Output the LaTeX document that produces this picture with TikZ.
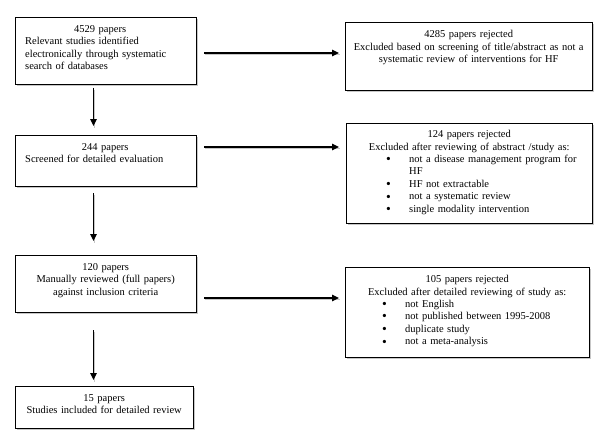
\documentclass[tikz,border=0pt]{standalone}
\usepackage{fontspec}
\setmainfont{Liberation Serif}
\usetikzlibrary{arrows.meta,shadows}
\newcommand{\bul}{\smash{\raisebox{-1.2pt}{\scalebox{1.3}{\textbullet}}}}
\begin{document}
\begin{tikzpicture}[x=1pt,y=-1pt,
  frame/.style={draw=black, line width=1.1pt, fill=white, inner sep=0pt, anchor=north west,
    drop shadow={shadow xshift=1.3pt, shadow yshift=-1.3pt, fill=black!22, opacity=1}},
  txt/.style={inner sep=0pt, anchor=north west, font=\fontsize{10.5}{12.6}\selectfont},
  flow/.style={line width=1.1pt, -{Triangle[length=7pt,width=6.5pt]},
    preaction={draw=black!22, line width=1.2pt, -, transform canvas={shift={(0.8pt,-1.7pt)}}}}
]
\useasboundingbox (0,0) rectangle (600,436);
% boxes
\node[frame, minimum width=181pt, minimum height=67pt] (b1) at (15,17) {};
\node[frame, minimum width=247pt, minimum height=68pt] (r1) at (345,22) {};
\node[frame, minimum width=181pt, minimum height=51pt] (b2) at (15,135) {};
\node[frame, minimum width=246pt, minimum height=100pt] (r2) at (346,123) {};
\node[frame, minimum width=181pt, minimum height=57pt] (b3) at (15,255) {};
\node[frame, minimum width=244pt, minimum height=90pt] (r3) at (345,267) {};
\node[frame, minimum width=178pt, minimum height=42pt] (b4) at (15,386) {};
% texts
\node[txt, text width=150pt] (t1) at (25,25) {{\centering 4529 papers\par}\raggedright Relevant studies identified\\electronically through systematic\\search of databases};
\node[txt, text width=237pt, align=center] (s1) at (350,30) {4285 papers rejected\\Excluded based on screening of title/abstract as not a\\systematic review of interventions for HF};
\node[txt, text width=160pt] (t2) at (25,143) {{\centering 244 papers\par}\raggedright Screened for detailed evaluation};
\node[txt, text width=236pt] (s2) at (351,130) {{\centering 124 papers rejected\\Excluded after reviewing of abstract /study as:\par}\noindent
\begin{tabular}{@{\hspace{35pt}}p{23pt}@{}l@{}}
\bul & not a disease management program for\\
 & HF\\
\bul & HF not extractable\\
\bul & not a systematic review\\
\bul & single modality intervention
\end{tabular}};
\node[txt, text width=171pt, align=center] (t3) at (20,263) {120 papers\\Manually reviewed (full papers)\\against inclusion criteria};
\node[txt, text width=234pt] (s3) at (350,275) {{\centering 105 papers rejected\\Excluded after detailed reviewing of study as:\par}\noindent
\begin{tabular}{@{\hspace{32pt}}p{23pt}@{}l@{}}
\bul & not English\\
\bul & not published between 1995-2008\\
\bul & duplicate study\\
\bul & not a meta-analysis
\end{tabular}};
\node[txt, text width=168pt, align=center] (t4) at (20,394) {15 papers\\Studies included for detailed review};
% connector end points
\coordinate (h1s) at (204,53);
\coordinate (h1e) at (339,53);
\coordinate (h2s) at (204,147);
\coordinate (h2e) at (339,147);
\coordinate (h3s) at (204,298);
\coordinate (h3e) at (339,298);
\coordinate (v1s) at (93.5,88);
\coordinate (v1e) at (93.5,126);
\coordinate (v2s) at (93.5,193);
\coordinate (v2e) at (93.5,241);
\coordinate (v3s) at (93.5,330);
\coordinate (v3e) at (93.5,380);
\draw[flow] (h1s) -- (h1e);
\draw[flow] (h2s) -- (h2e);
\draw[flow] (h3s) -- (h3e);
\draw[flow] (v1s) -- (v1e);
\draw[flow] (v2s) -- (v2e);
\draw[flow] (v3s) -- (v3e);
\end{tikzpicture}
\end{document}
